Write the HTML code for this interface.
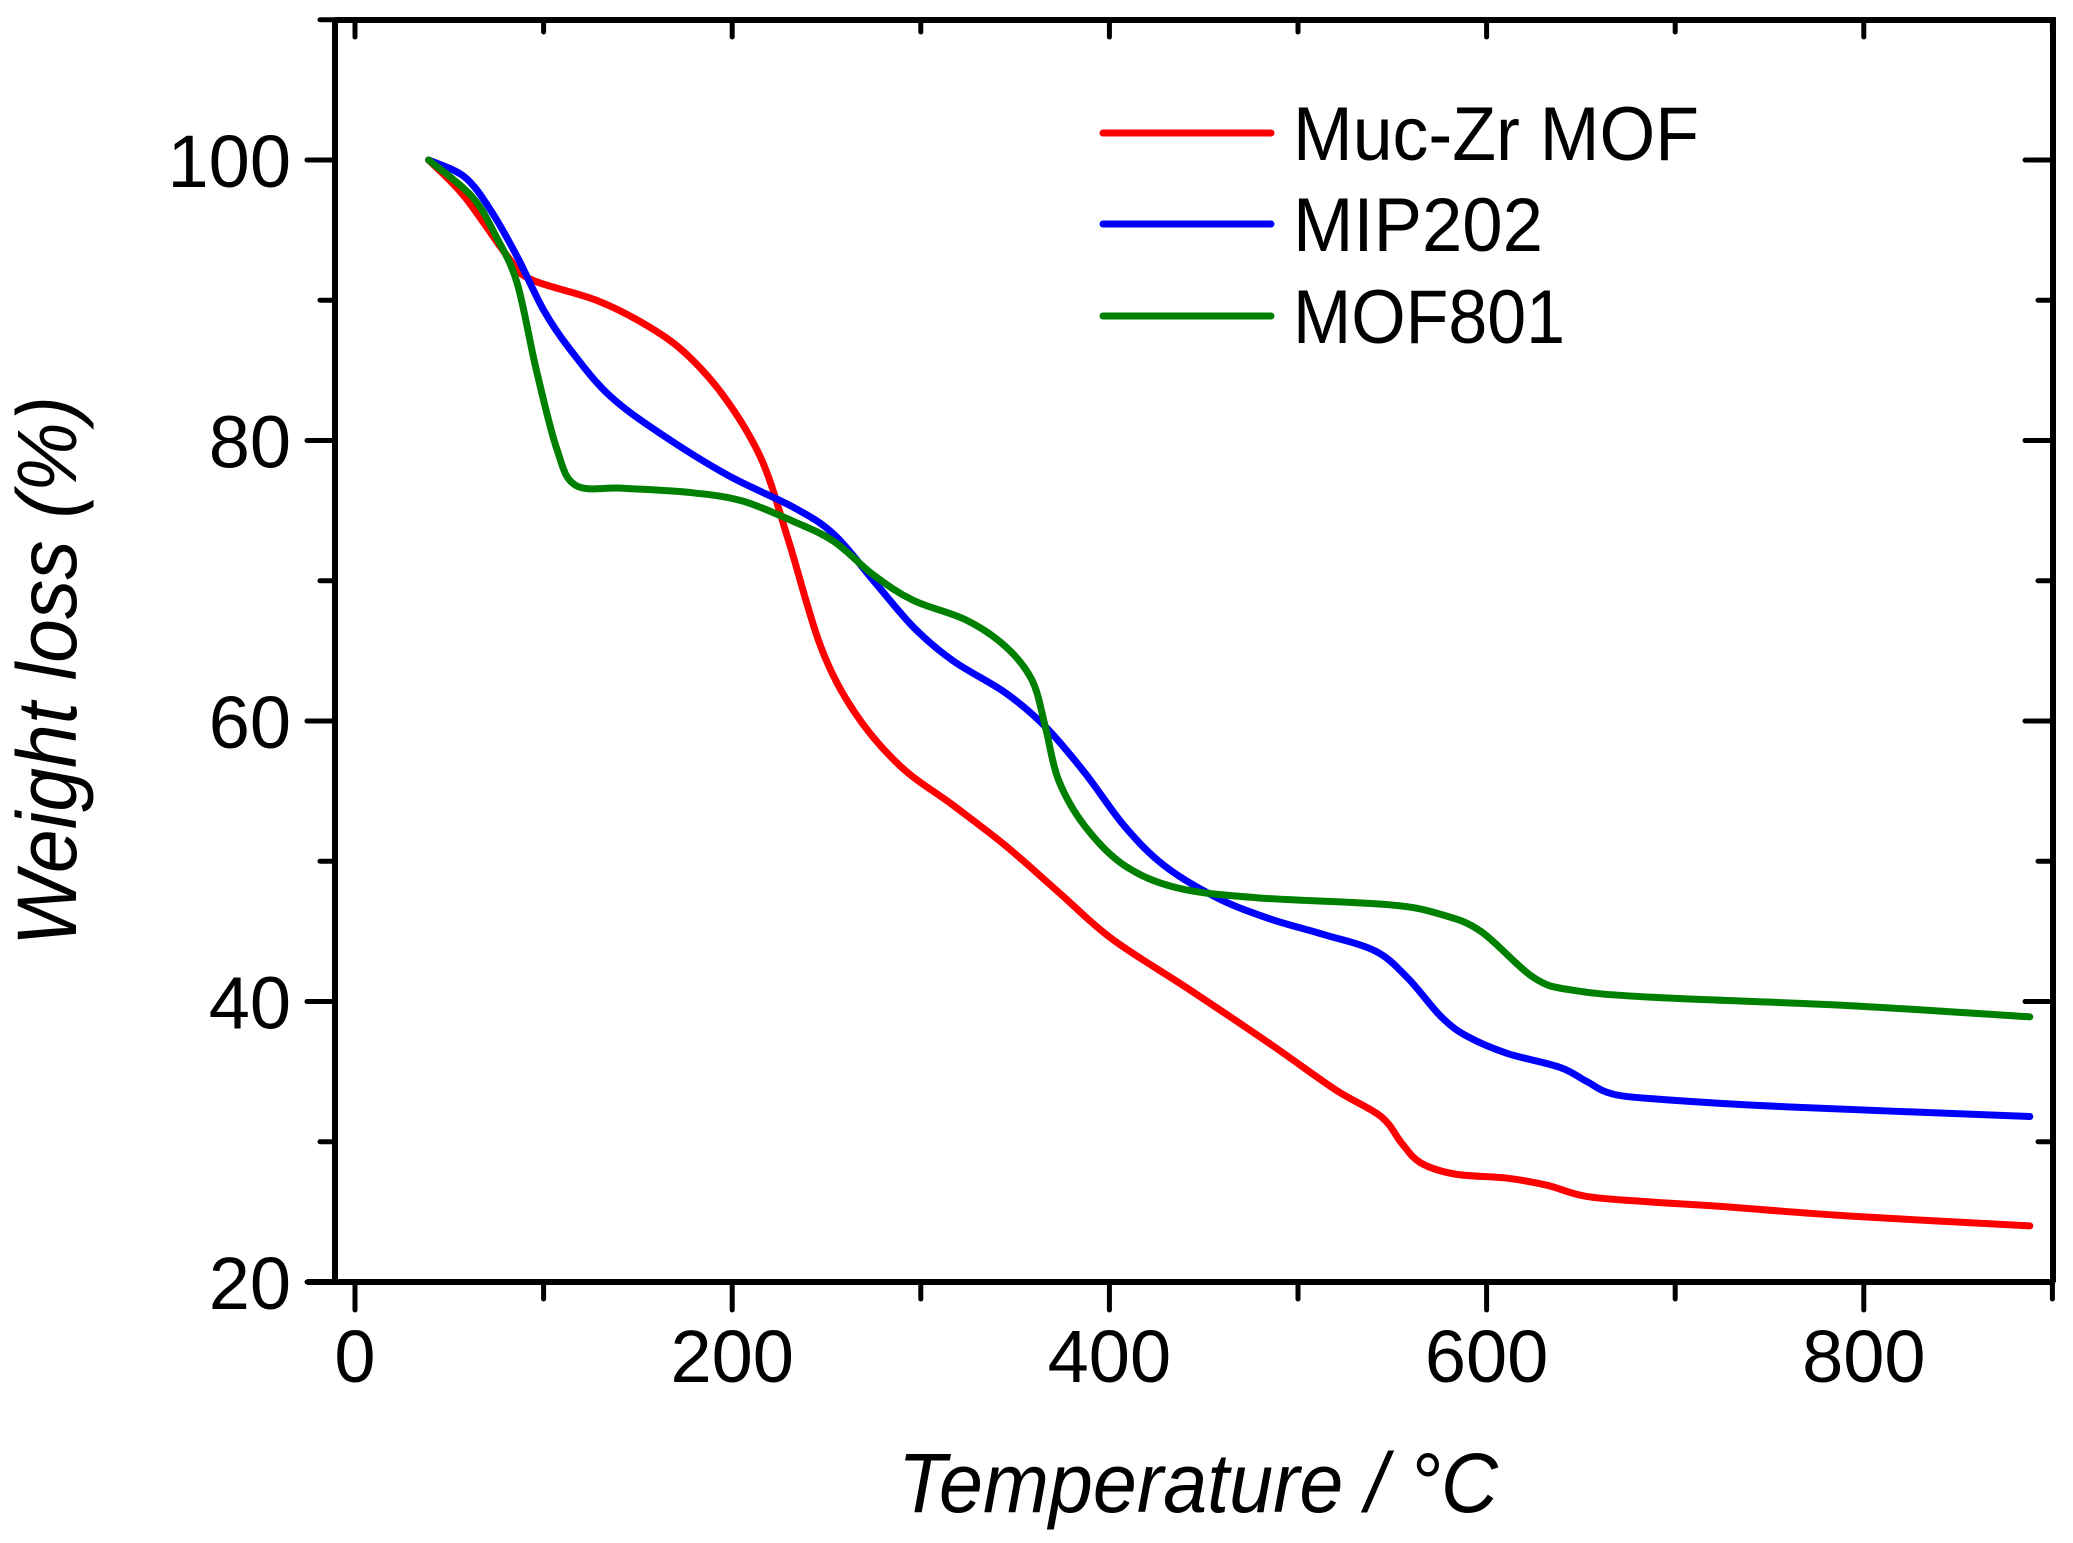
<!DOCTYPE html>
<html><head><meta charset="utf-8"><style>
html,body{margin:0;padding:0;background:#fff}
svg{display:block}
text{font-family:"Liberation Sans",Arial,sans-serif;fill:#000}
</style></head><body>
<svg id="chart" width="2073" height="1543" viewBox="0 0 2073 1543" xmlns="http://www.w3.org/2000/svg">
<g id="plot"></g>
</svg>
<script>
const xTicks=[0,200,400,600,800];
const yTicks=[20,40,60,80,100];
const seriesNames=["Muc-Zr MOF","MIP202","MOF801"];
const seriesColors=["#ff0000","#0000ff","#008000"];
const redT=[39,58,81,93,128,156,177,198,216,230,247,265,289,317,345,373,401,443,485,520,544,555,565,583,611,632,653,688,723,793,888];
const redW=[100,97.4,93.1,91.5,90,88.1,86,82.7,78.5,72.8,65.3,60.6,56.8,54,51.1,47.8,44.5,40.8,37,33.7,31.8,29.9,28.5,27.7,27.4,26.9,26.1,25.7,25.4,24.7,24];
const blueT=[39,58,72,86,100,114,135,163,198,233,254,275,296,317,345,366,387,408,429,457,485,513,541,558,576,590,611,639,653,667,695,758,888];
const blueW=[100,98.8,96.4,93.1,89.3,86.5,83.2,80.4,77.5,75.2,73.3,70,66.7,64.3,62,59.6,56.3,52.5,49.7,47.4,45.9,44.8,43.6,41.7,38.9,37.5,36.3,35.3,34.3,33.4,33,32.5,31.8];
const greenT=[39,62,75,86,96,107,117,142,177,205,233,254,275,296,324,345,359,366,373,387,408,436,478,548,576,597,625,646,688,793,888];
const greenW=[100,97.4,94.5,91.2,85.1,79.4,76.8,76.6,76.3,75.7,74.2,72.8,70.4,68.6,67.2,65.3,62.9,59.6,55.8,52.5,49.7,48.1,47.4,46.9,46.2,45,41.7,40.8,40.3,39.7,38.9];

const X0=355, XS=1.886, Y0=160, YS=14.025;
const L=335,R=2053,T=20,B=1282;
function sx(v){return X0+v*XS;}
function sy(v){return Y0+(100-v)*YS;}
const NS="http://www.w3.org/2000/svg";
const g=document.getElementById('plot');
function mk(tag,attrs){const e=document.createElementNS(NS,tag);for(const k in attrs)e.setAttribute(k,attrs[k]);g.appendChild(e);return e;}

function smooth(ts,ws){
  const p=ts.map((t,i)=>[sx(t),sy(ws[i])]);
  let d="M"+p[0][0].toFixed(1)+","+p[0][1].toFixed(1);
  for(let i=0;i<p.length-1;i++){
    const p0=p[i-1]||p[i],p1=p[i],p2=p[i+1],p3=p[i+2]||p2;
    const c1=[p1[0]+(p2[0]-p0[0])/6,p1[1]+(p2[1]-p0[1])/6];
    const c2=[p2[0]-(p3[0]-p1[0])/6,p2[1]-(p3[1]-p1[1])/6];
    d+=" C"+c1.map(v=>v.toFixed(1)).join(",")+" "+c2.map(v=>v.toFixed(1)).join(",")+" "+p2[0].toFixed(1)+","+p2[1].toFixed(1);
  }
  return d;
}
const series=[[redT,redW],[blueT,blueW],[greenT,greenW]];
series.forEach((s,i)=>{
  const p=mk('path',{d:smooth(s[0],s[1]),fill:'none',stroke:seriesColors[i],'stroke-width':7,'stroke-linejoin':'round','stroke-linecap':'round'});
  
  
});

// frame
const fr=mk('path',{d:`M${L},${T} H${R} V${B} M${L},${T} V${B}`,fill:'none',stroke:'#000','stroke-width':6});


const xa=mk('line',{x1:307,y1:B,x2:R,y2:B,stroke:'#000','stroke-width':6});



// x ticks
for(let v=0;v<=900;v+=100){
  const maj=v%200===0;
  const t=mk('line',{x1:sx(v),y1:B,x2:sx(v),y2:B+(maj?28:17),stroke:'#000','stroke-width':5,'stroke-linecap':'round'});
  
  
  const t2=mk('line',{x1:sx(v),y1:T,x2:sx(v),y2:T+(maj?17:12),stroke:'#000','stroke-width':5,'stroke-linecap':'round'});
  
  
}
xTicks.forEach(v=>{
  const t=mk('text',{x:sx(v),y:1382,'text-anchor':'middle','font-size':74});
  t.textContent=v;
  
  
});
// y ticks
for(let v=20;v<=110;v+=10){
  const maj=v%20===0;
  const t=mk('line',{x1:L,y1:sy(v),x2:L-(maj?28:15),y2:sy(v),stroke:'#000','stroke-width':5,'stroke-linecap':'round'});
  
  
  const t2=mk('line',{x1:R,y1:sy(v),x2:R-(maj?28:15),y2:sy(v),stroke:'#000','stroke-width':5,'stroke-linecap':'round'});
  
  
}
yTicks.forEach(v=>{
  const t=mk('text',{x:291,y:sy(v)+27,'text-anchor':'end','font-size':74});
  t.textContent=v;
  
  
});
// titles
const xt=mk('text',{x:1198,y:1512,'text-anchor':'middle','font-size':84,'font-style':'italic',textLength:600,lengthAdjust:'spacingAndGlyphs'});
xt.textContent='Temperature / °C';


const yt=mk('text',{x:0,y:0,'text-anchor':'middle','font-size':84,'font-style':'italic',textLength:550,lengthAdjust:'spacingAndGlyphs',transform:'translate(76,671) rotate(-90)'});
yt.textContent='Weight loss (%)';


// legend
const ly=[133,224,316];
const lw=[406,250,272];
seriesNames.forEach((n,i)=>{
  const l=mk('line',{x1:1103,y1:ly[i],x2:1271,y2:ly[i],stroke:seriesColors[i],'stroke-width':7,'stroke-linecap':'round'});
  
  
  const t=mk('text',{x:1293,y:ly[i]+27,'font-size':76,textLength:lw[i],lengthAdjust:'spacingAndGlyphs'});
  t.textContent=n;
  
  
});
</script>
</body></html>
